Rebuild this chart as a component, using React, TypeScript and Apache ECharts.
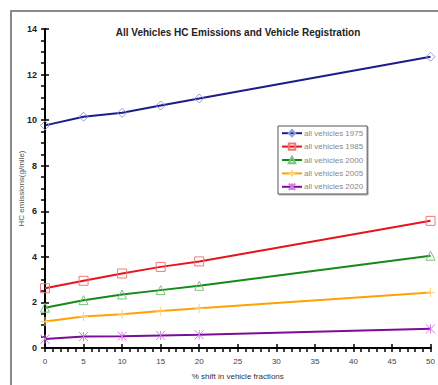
import React, { useEffect, useRef } from "react";
import * as echarts from "echarts";

const xValues = [0, 5, 10, 15, 20, 50];
const v1975 = [9.77, 10.15, 10.32, 10.64, 10.95, 12.78];
const v1985 = [2.62, 2.95, 3.27, 3.56, 3.8, 5.58];
const v2000 = [1.77, 2.1, 2.35, 2.54, 2.73, 4.05];
const v2005 = [1.16, 1.38, 1.48, 1.62, 1.74, 2.44];
const v2020 = [0.39, 0.5, 0.52, 0.55, 0.58, 0.84];
const seriesNames = ["all vehicles 1975", "all vehicles 1985", "all vehicles 2000", "all vehicles 2005", "all vehicles 2020"];
const lineColors = ["#1c1c8a", "#e8141c", "#168a16", "#ffa200", "#7a0e98"];
const markColors = ["#8f9fe0", "#f07878", "#7cc07c", "#ffd27a", "#d27ae6"];
const symbols = [
  "diamond",
  "rect",
  "triangle",
  "path://M5,0 L5,10 M0,5 L10,5",
  "path://M0,0 L10,10 M10,0 L0,10 M5,0 L5,10",
];

export default function App() {
  const ref = useRef<HTMLDivElement>(null);
  useEffect(() => {
    const chart = echarts.init(ref.current!, null, { renderer: "svg" });
    const all = [v1975, v1985, v2000, v2005, v2020];
    const series = all.map((vals, i) => ({
      name: seriesNames[i],
      type: "line",
      data: xValues.map((x, j) => [x, vals[j]]),
      xAxisIndex: 0,
      yAxisIndex: 0,
      lineStyle: { color: lineColors[i], width: 2 },
      itemStyle: { color: "rgba(255,255,255,0)", borderColor: markColors[i], borderWidth: 1 },
      symbol: symbols[i],
      symbolSize: 9,
      showSymbol: true,
    }));
    const axisCommonY = {
      type: "value",
      min: 0,
      max: 14,
      interval: 2,
      axisLine: { show: true, lineStyle: { color: "#000", width: 2 } },
      splitLine: { show: false },
    };
    const axisCommonX = {
      type: "value",
      min: 0,
      max: 50,
      interval: 5,
      axisLine: { show: true, lineStyle: { color: "#000", width: 2 } },
      splitLine: { show: false },
    };
    chart.setOption({
      animation: false,
      title: {
        text: "All Vehicles HC Emissions and Vehicle Registration",
        left: 233,
        textAlign: "center",
        top: 22,
        textStyle: { fontSize: 10, fontWeight: "bold", color: "#222", fontFamily: "Liberation Sans" },
      },
      graphic: [
        {
          type: "rect",
          shape: { x: 11, y: 11, width: 440, height: 400 },
          style: { fill: "none", stroke: "#8a8a8a", lineWidth: 2 },
          silent: true,
        },
      ],
      legend: {
        orient: "vertical",
        left: 278,
        top: 126,
        itemWidth: 20,
        itemHeight: 8,
        itemGap: 5,
        padding: [3, 4, 3, 3],
        borderColor: "#555",
        borderWidth: 1,
        backgroundColor: "#fff",
        shadowColor: "rgba(0,0,0,0.3)",
        shadowOffsetX: 1,
        shadowOffsetY: 1,
        shadowBlur: 1,
        textStyle: { fontSize: 8, color: "#888", fontFamily: "Liberation Sans", padding: [0, 0, 0, -3] },
        data: seriesNames,
      },
      grid: { left: 45, right: 6, top: 29, bottom: 35 },
      xAxis: [
        {
          ...axisCommonX,
          name: "% shift in vehicle fractions",
          nameLocation: "middle",
          nameGap: 24,
          nameMoveOverlap: false,
          nameTextStyle: { fontSize: 8, color: "#333", fontFamily: "Liberation Sans" },
          axisTick: { show: true, inside: false, length: 4, lineStyle: { color: "#000", width: 1.5 } },
          minorTick: { show: true, splitNumber: 5, length: 4, lineStyle: { color: "#000", width: 1.5 } },
          axisLabel: { fontSize: 8, color: "#444", margin: 9, fontFamily: "Liberation Sans" },
        },
        {
          ...axisCommonX,
          position: "bottom",
          axisTick: { show: true, inside: true, length: 4, lineStyle: { color: "#000", width: 1.5 } },
          minorTick: { show: false },
          axisLabel: { show: false },
        },
      ],
      yAxis: [
        {
          ...axisCommonY,
          name: "HC emissions(g/mile)",
          nameLocation: "middle",
          nameGap: 20,
          nameMoveOverlap: false,
          nameTextStyle: { fontSize: 8, color: "#555", fontFamily: "Liberation Sans" },
          axisTick: { show: true, inside: false, length: 4, lineStyle: { color: "#000", width: 1.5 } },
          minorTick: { show: true, splitNumber: 4, length: 4, lineStyle: { color: "#000", width: 1.5 } },
          axisLabel: { fontSize: 9, color: "#222", margin: 8, fontWeight: "bold", fontFamily: "Liberation Sans" },
        },
        {
          ...axisCommonY,
          position: "left",
          axisTick: { show: true, inside: true, length: 4, lineStyle: { color: "#000", width: 1.5 } },
          minorTick: { show: false },
          axisLabel: { show: false },
        },
      ],
      series,
    });
    return () => chart.dispose();
  }, []);
  return <div ref={ref} style={{ width: 438, height: 385, position: "absolute", left: 0, top: 0 }} />;
}
